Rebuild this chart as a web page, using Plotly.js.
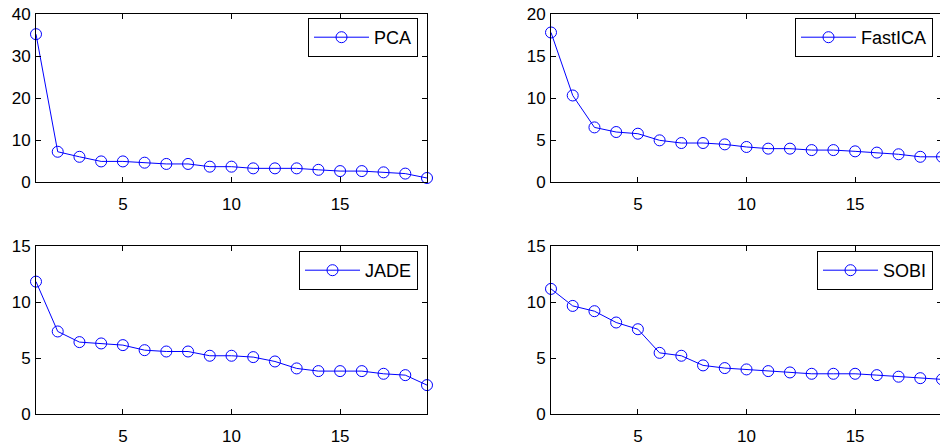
<!DOCTYPE html>
<html>
<head>
<meta charset="utf-8">
<script src="https://cdn.plot.ly/plotly-3.0.1.min.js"></script>
<style>
html,body{margin:0;padding:0;overflow:hidden;background:#fff;}
#chart{width:944px;height:445px;}
</style>
</head>
<body>
<div id="chart"></div>
<script>
const xIndex = [1,2,3,4,5,6,7,8,9,10,11,12,13,14,15,16,17,18,19];
const pcaValues = [35.2,7.2,6.0,4.9,4.9,4.6,4.3,4.3,3.65,3.65,3.25,3.25,3.25,2.9,2.6,2.6,2.3,2.0,0.95];
const fastIcaValues = [17.8,10.3,6.5,5.95,5.75,4.96,4.64,4.64,4.48,4.17,3.97,3.97,3.8,3.8,3.65,3.5,3.3,3.0,3.0];
const jadeValues = [11.82,7.37,6.42,6.3,6.15,5.7,5.58,5.58,5.2,5.2,5.08,4.69,4.07,3.83,3.83,3.83,3.59,3.47,2.58];
const sobiValues = [11.17,9.65,9.18,8.17,7.57,5.46,5.2,4.34,4.1,3.98,3.83,3.71,3.59,3.59,3.59,3.47,3.33,3.2,3.09];
const seriesNames = ['PCA','FastICA','JADE','SOBI'];
const xTicks = [5,10,15];
const yTicksPCA = [0,10,20,30,40];
const yTicksFast = [0,5,10,15,20];
const yTicksBottom = [0,5,10,15];

const W = 944, H = 445;
const blue = '#0000FF';
function trace(y, name, xa, ya, leg){
  return {x: xIndex, y: y, name: name, xaxis: xa, yaxis: ya, legend: leg,
    type: 'scatter', mode: 'lines+markers', cliponaxis: false,
    line: {color: blue, width: 1},
    marker: {symbol: 'circle-open', size: 11, color: blue, line: {width: 1, color: blue}}};
}
const data = [
  trace(pcaValues, seriesNames[0], 'x', 'y', 'legend'),
  trace(fastIcaValues, seriesNames[1], 'x2', 'y2', 'legend2'),
  trace(jadeValues, seriesNames[2], 'x3', 'y3', 'legend3'),
  trace(sobiValues, seriesNames[3], 'x4', 'y4', 'legend4')
];
const font = {family: 'Arial, "Liberation Sans", Helvetica, sans-serif', size: 17, color: '#000'};
const legFont = {family: 'Arial, "Liberation Sans", Helvetica, sans-serif', size: 18, color: '#000'};
function xax(dom, anchor){
  return {domain: dom, anchor: anchor, range: [1,19], tickvals: xTicks, ticks: 'inside', ticklen: 5,
    showline: true, mirror: 'ticks', linecolor: '#000', linewidth: 1, tickcolor: '#000',
    showgrid: false, zeroline: false, tickfont: font, ticklabelstandoff: 7};
}
function yax(dom, anchor, range, ticks){
  return {domain: dom, anchor: anchor, range: range, tickvals: ticks, ticks: 'inside', ticklen: 5,
    showline: true, mirror: 'ticks', linecolor: '#000', linewidth: 1, tickcolor: '#000',
    showgrid: false, zeroline: false, tickfont: font, ticklabelstandoff: 1};
}
const xL = [36/W, 427/W], xR = [551/W, 942/W];
const yT = [(H-182)/H, (H-14)/H], yB = [(H-414)/H, (H-246)/H];
function leg(xr, yt){
  return {x: xr/W, y: (H-yt)/H, xanchor: 'right', yanchor: 'top', bgcolor: '#fff',
    bordercolor: '#000', borderwidth: 1, font: legFont, itemwidth: 55};
}
const layout = {
  width: W, height: H, margin: {l:0, r:0, t:0, b:0},
  paper_bgcolor: '#fff', plot_bgcolor: '#fff', font: font, showlegend: true,
  xaxis: xax(xL, 'y'), yaxis: yax(yT, 'x', [0,40], yTicksPCA),
  xaxis2: xax(xR, 'y2'), yaxis2: yax(yT, 'x2', [0,20], yTicksFast),
  xaxis3: xax(xL, 'y3'), yaxis3: yax(yB, 'x3', [0,15], yTicksBottom),
  xaxis4: xax(xR, 'y4'), yaxis4: yax(yB, 'x4', [0,15], yTicksBottom),
  legend: leg(418, 18), legend2: leg(933, 18), legend3: leg(418, 251), legend4: leg(933, 251)
};
Plotly.newPlot('chart', data, layout, {staticPlot: true, displayModeBar: false});
</script>
</body>
</html>
